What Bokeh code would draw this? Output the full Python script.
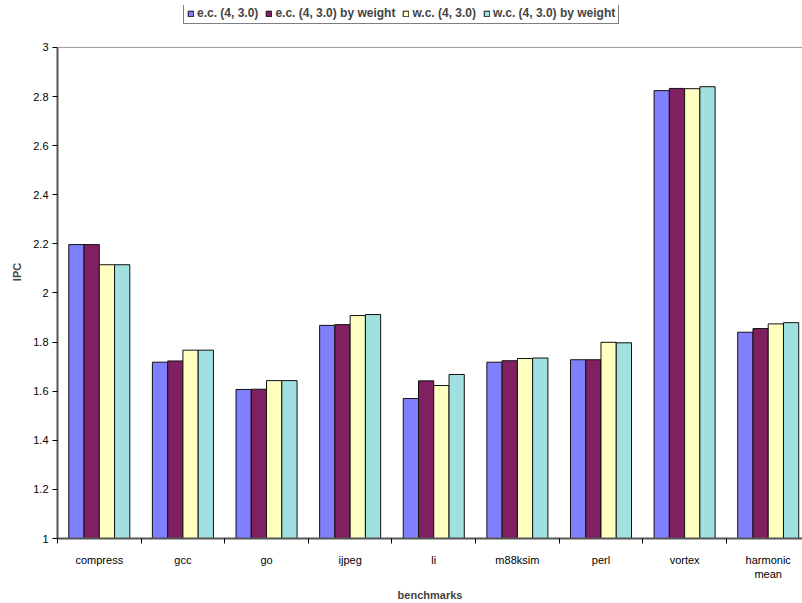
from bokeh.plotting import figure
from bokeh.models import (Range1d, FixedTicker, NumeralTickFormatter, Legend,
                          LegendItem, ColumnDataSource, Span)
from bokeh.transform import dodge
from bokeh.embed import file_html
from bokeh.resources import INLINE

# Benchmarks and IPC for each cache configuration
categories = ["compress", "gcc", "go", "ijpeg", "li", "m88ksim", "perl",
              "vortex", "harmonic\nmean"]
ec = [2.197, 1.718, 1.607, 1.868, 1.570, 1.718, 1.728, 2.824, 1.840]
ec_weight = [2.197, 1.723, 1.608, 1.871, 1.642, 1.724, 1.728, 2.833, 1.855]
wc = [2.115, 1.767, 1.643, 1.908, 1.623, 1.733, 1.799, 2.832, 1.874]
wc_weight = [2.115, 1.767, 1.643, 1.912, 1.668, 1.735, 1.797, 2.840, 1.879]

series_names = ["e.c. (4, 3.0)", "e.c. (4, 3.0) by weight",
                "w.c. (4, 3.0)", "w.c. (4, 3.0) by weight"]
series_cols = ["ec", "ec_weight", "wc", "wc_weight"]
colors = ["#8080FF", "#802060", "#FFFFC0", "#A0E0E0"]

y_ticks = [1.0, 1.2, 1.4, 1.6, 1.8, 2.0, 2.2, 2.4, 2.6, 2.8, 3.0]
y_min, y_max = 1.0, 3.0

FONT = "Liberation Sans"

centers = [i + 0.5 for i in range(len(categories))]
source = ColumnDataSource(dict(x=centers, ec=ec, ec_weight=ec_weight,
                               wc=wc, wc_weight=wc_weight))

# frame runs from the legend row down to the x axis; the value axis stops at 3
frame_h = 534
plot_h = 492
p = figure(width=802, height=603, output_backend="svg", toolbar_location=None,
           x_range=Range1d(0, 8.91),
           y_range=Range1d(y_min, y_min + (y_max - y_min) * frame_h / plot_h),
           min_border_left=57, min_border_right=0, min_border_top=5,
           min_border_bottom=64)
p.background_fill_color = "white"
p.border_fill_color = "white"
p.outline_line_color = None
p.xgrid.visible = False
p.ygrid.visible = False

# top edge of the plot area
p.add_layout(Span(location=y_max, dimension="width", line_color="#999999",
                  line_width=1))

bar_w = 0.1825
offsets = [-1.5 * bar_w, -0.5 * bar_w, 0.5 * bar_w, 1.5 * bar_w]
renderers = []
for col, off, color in zip(series_cols, offsets, colors):
    r = p.vbar(x=dodge("x", off), top=col, bottom=y_min, width=bar_w,
               source=source, fill_color=color, line_color="#111111",
               line_width=1)
    renderers.append(r)

# y axis
yax = p.yaxis[0]
yax.bounds = (y_min, y_max)
yax.ticker = FixedTicker(ticks=y_ticks)
yax.formatter = NumeralTickFormatter(format="0.[0]")
yax.axis_label = "IPC"
yax.axis_label_text_font = FONT
yax.axis_label_text_font_style = "bold"
yax.axis_label_text_font_size = "11px"
yax.axis_label_standoff = 7
yax.major_label_text_font = FONT
yax.major_label_text_font_size = "11px"
yax.major_label_text_color = "black"
yax.major_tick_out = 5
yax.major_tick_in = 0
yax.major_tick_line_color = "black"
yax.minor_tick_out = 0
yax.minor_tick_in = 0
yax.axis_line_color = "#555555"
yax.axis_line_width = 2
yax.major_label_standoff = 4

# x axis: labels at category centres, tick marks at category boundaries
xax = p.xaxis[0]
xax.ticker = FixedTicker(ticks=centers,
                         minor_ticks=list(range(len(categories) + 1)))
xax.major_label_overrides = {c: lab for c, lab in zip(centers, categories)}
xax.major_tick_out = 0
xax.major_tick_in = 0
xax.minor_tick_out = 5
xax.minor_tick_in = 0
xax.minor_tick_line_color = "black"
xax.axis_line_color = "#555555"
xax.axis_line_width = 2
xax.major_label_text_font = FONT
xax.major_label_text_font_size = "11px"
xax.major_label_text_color = "black"
xax.major_label_standoff = 10
xax.axis_label = "benchmarks"
xax.axis_label_text_font = FONT
xax.axis_label_text_font_style = "bold"
xax.axis_label_text_font_size = "11px"
xax.axis_label_standoff = 6

legend = Legend(
    items=[LegendItem(label=n, renderers=[r]) for n, r in zip(series_names, renderers)],
    orientation="horizontal", location=(126, frame_h - 20),
    border_line_color="black", border_line_width=1,
    background_fill_color="white", background_fill_alpha=1,
    label_text_font=FONT, label_text_font_style="bold",
    label_text_font_size="12px", label_height=9,
    glyph_width=7, glyph_height=7, label_standoff=3, spacing=7,
    padding=3, margin=0)
p.add_layout(legend, "center")

open("out.html", "w").write(file_html(p, INLINE))
